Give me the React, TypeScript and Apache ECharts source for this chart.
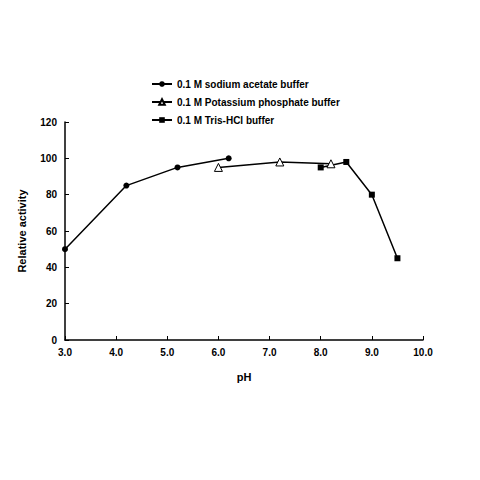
import { useEffect, useRef } from "react";
import * as echarts from "echarts";

// pH vs relative activity for three buffers
const acetateData = [
  [3.0, 50],
  [4.2, 85],
  [5.2, 95],
  [6.2, 100],
];
const phosphateData = [
  [6.0, 95],
  [7.2, 98],
  [8.2, 97],
];
const trisData = [
  [8.0, 95],
  [8.5, 98],
  [9.0, 80],
  [9.5, 45],
];
const seriesNames = [
  "0.1 M sodium acetate buffer",
  "0.1 M Potassium phosphate buffer",
  "0.1 M Tris-HCl buffer",
];

const FONT = "Liberation Sans, Arial, sans-serif";

export default function App() {
  const chartRef = useRef<HTMLDivElement | null>(null);

  useEffect(() => {
    if (!chartRef.current) return;
    const chart = echarts.init(chartRef.current, undefined, { renderer: "svg" });

    const lineBase = {
      type: "line",
      lineStyle: { color: "#000", width: 1.5 },
      emphasis: { disabled: true },
    };

    chart.setOption({
      animation: false,
      backgroundColor: "#fff",
      textStyle: { fontFamily: FONT },
      legend: {
        orient: "vertical",
        left: 146,
        top: 74,
        itemGap: 8,
        itemWidth: 20,
        itemHeight: 7,
        textStyle: { color: "#000", fontSize: 10, fontWeight: "bold", fontFamily: FONT },
        data: seriesNames,
      },
      grid: { left: 65, right: 57, top: 122, bottom: 140 },
      xAxis: {
        type: "value",
        min: 3,
        max: 10,
        interval: 1,
        name: "pH",
        nameLocation: "middle",
        nameGap: 31,
        nameTextStyle: { color: "#000", fontSize: 11, fontWeight: "bold" },
        axisLine: { lineStyle: { color: "#000", width: 1.5 } },
        axisTick: { inside: true, length: 4, lineStyle: { color: "#000" } },
        axisLabel: {
          color: "#000",
          fontSize: 10,
          fontWeight: "bold",
          margin: 7,
          formatter: (v: number) => v.toFixed(1),
        },
        splitLine: { show: false },
      },
      yAxis: {
        type: "value",
        min: 0,
        max: 120,
        interval: 20,
        name: "Relative activity",
        nameLocation: "middle",
        nameGap: 38,
        nameTextStyle: { color: "#000", fontSize: 11, fontWeight: "bold" },
        axisLine: { show: true, lineStyle: { color: "#000", width: 1.5 } },
        axisTick: { show: true, inside: true, length: 4, lineStyle: { color: "#000" } },
        axisLabel: { color: "#000", fontSize: 10, fontWeight: "bold", margin: 8 },
        splitLine: { show: false },
      },
      series: [
        {
          ...lineBase,
          name: seriesNames[0],
          data: acetateData,
          symbol: "circle",
          symbolSize: 6,
          itemStyle: { color: "#000" },
        },
        {
          ...lineBase,
          name: seriesNames[1],
          data: phosphateData,
          symbol: "triangle",
          symbolSize: 8,
          itemStyle: { color: "#fff", borderColor: "#000", borderWidth: 1 },
        },
        {
          ...lineBase,
          name: seriesNames[2],
          data: trisData,
          symbol: "rect",
          symbolSize: 6,
          itemStyle: { color: "#000" },
        },
      ],
    });

    return () => chart.dispose();
  }, []);

  return (
    <div
      ref={chartRef}
      style={{ width: 480, height: 480, margin: -8 }}
    />
  );
}
